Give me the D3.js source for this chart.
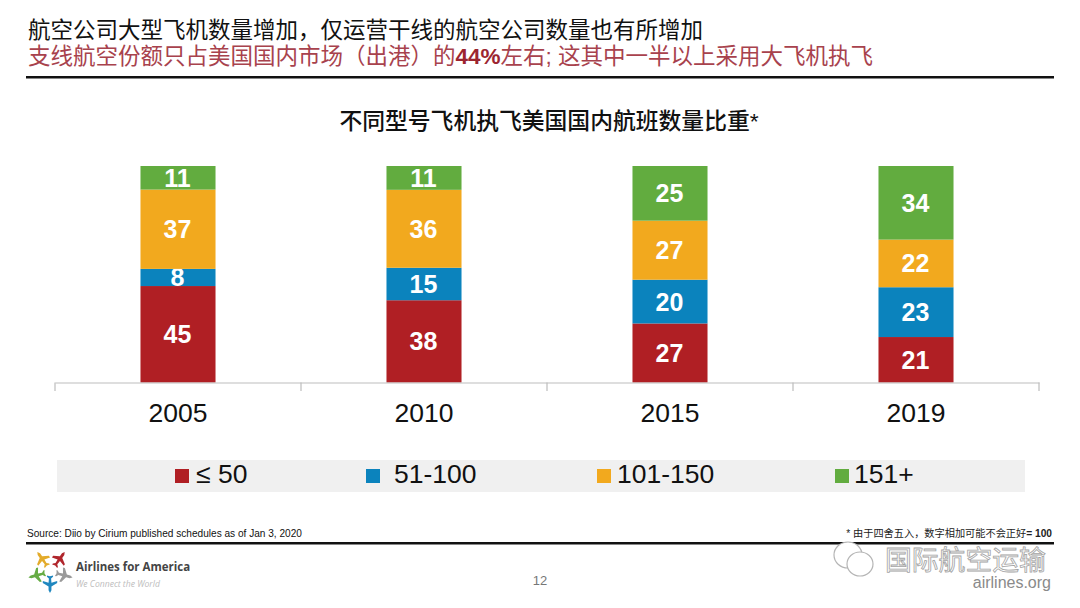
<!DOCTYPE html>
<html>
<head>
<meta charset="utf-8">
<script src="https://d3js.org/d3.v7.min.js"></script>
<style>
  body { margin: 0; background: #fff; }
  svg { display: block; }
  text { font-family: "Liberation Sans", "Noto Sans CJK SC", sans-serif; }
</style>
</head>
<body>
<svg id="chart" width="1080" height="608"></svg>
<script>
const years = ["2005", "2010", "2015", "2019"];
const groups = ["≤ 50", "51-100", "101-150", "151+"];
const small = [45, 38, 27, 21];
const regional = [8, 15, 20, 23];
const narrow = [37, 36, 27, 22];
const large = [11, 11, 25, 34];
const colors = ["#b01f24", "#0b83bd", "#f2a91e", "#62ac3f"];

// \uFF0C \uFF08 \uFF09 are the full width comma and brackets
const title1 = "航空公司大型飞机数量增加\uFF0C仅运营干线的航空公司数量也有所增加";
const title2 = "支线航空份额只占美国国内市场\uFF08出港\uFF09的";
const title2b = "44%";
const title2c = "左右; 这其中一半以上采用大飞机执飞";
const chartTitle = "不同型号飞机执飞美国国内航班数量比重*";
const source = "Source: Diio by Cirium published schedules as of Jan 3, 2020";
const footnote = "* 由于四舍五入\uFF0C数字相加可能不会正好";
const footnoteEnd = "= 100";

const svg = d3.select("#chart");

const rows = years.map((y, i) => ({ year: y, 0: small[i], 1: regional[i], 2: narrow[i], 3: large[i] }));
const stacked = d3.stack().keys([0, 1, 2, 3]).offset(d3.stackOffsetExpand)(rows);

const x = d3.scaleBand().domain(years).range([55, 1039]).paddingInner(0.695).paddingOuter(0.3475);
const y = d3.scaleLinear().domain([0, 1]).range([382.5, 166]);

// header
svg.append("text").attr("x", 28).attr("y", 38).attr("font-size", 22.5).attr("fill", "#111").text(title1);
const sub = svg.append("text").attr("x", 28).attr("y", 64).attr("font-size", 22.5).attr("fill", "#a8424d");
sub.append("tspan").text(title2);
sub.append("tspan").attr("font-weight", "bold").attr("fill", "#9c2530").text(title2b);
sub.append("tspan").text(title2c);
svg.append("rect").attr("x", 26).attr("y", 76).attr("width", 1028).attr("height", 2.5).attr("fill", "#111");

svg.append("text").attr("x", 549).attr("y", 129).attr("text-anchor", "middle")
  .attr("font-size", 22.8).attr("font-weight", 500).attr("fill", "#111").text(chartTitle);

// bars
const layer = svg.append("g").selectAll("g").data(stacked).join("g").attr("fill", d => colors[d.key]);
layer.selectAll("rect").data(d => d).join("rect")
  .attr("x", d => x(d.data.year))
  .attr("width", x.bandwidth())
  .attr("y", d => y(d[1]))
  .attr("height", d => y(d[0]) - y(d[1]));

layer.selectAll("text").data(d => d.map(p => ({ p, v: p.data[d.key] }))).join("text")
  .attr("x", d => x(d.p.data.year) + x.bandwidth() / 2 - 0.5)
  .attr("y", d => (y(d.p[0]) + y(d.p[1])) / 2 + 9)
  .attr("text-anchor", "middle")
  .attr("font-size", 25)
  .attr("font-weight", "bold")
  .attr("fill", "#fff")
  .text(d => d.v);

// axis, ticks sit between the categories
const axis = svg.append("g").attr("transform", "translate(0,382.5)")
  .call(d3.axisBottom(x).tickSize(0).tickPadding(21));
axis.select(".domain").attr("stroke", "#bdbdbd").attr("stroke-width", 1.2);
axis.selectAll("text").attr("font-size", 26.5).attr("fill", "#111")
  .style("font-family", '"Liberation Sans"');
svg.append("g").selectAll("line").data(d3.range(years.length + 1)).join("line")
  .attr("x1", i => 55 + i * x.step()).attr("x2", i => 55 + i * x.step())
  .attr("y1", 382.5).attr("y2", 391)
  .attr("stroke", "#bdbdbd").attr("stroke-width", 1.2);

// legend
svg.append("rect").attr("x", 57).attr("y", 460).attr("width", 968).attr("height", 32).attr("fill", "#f0f0f0");
const swatchX = [175, 366, 597, 835];
const labelX = [196, 394, 617, 854];
const leg = svg.append("g").selectAll("g").data(groups).join("g");
leg.append("rect").attr("x", (d, i) => swatchX[i]).attr("y", 469).attr("width", 14).attr("height", 14)
  .attr("fill", (d, i) => colors[i]);
leg.append("text").attr("x", (d, i) => labelX[i]).attr("y", 483).attr("font-size", 26.5).attr("fill", "#111").text(d => d);

// footer
svg.append("text").attr("x", 27).attr("y", 537).attr("font-size", 10.1).attr("fill", "#111").text(source);
const fn = svg.append("text").attr("x", 1052).attr("y", 537).attr("text-anchor", "end").attr("font-size", 10.2).attr("fill", "#222");
fn.append("tspan").text(footnote);
fn.append("tspan").attr("font-weight", "bold").text(footnoteEnd);
svg.append("rect").attr("x", 26).attr("y", 542).attr("width", 1028).attr("height", 2.5).attr("fill", "#111");
svg.append("text").attr("x", 540).attr("y", 585).attr("text-anchor", "middle").attr("font-size", 13).attr("fill", "#777").text("12");

// logo, five little planes round a star
const plane = "M0,-11 L1.6,-8 L1.6,-4 L8,0 L8,2.2 L1.6,0.4 L1.2,5 L3.4,7 L3.4,8.4 L0,7.4 L-3.4,8.4 L-3.4,7 L-1.2,5 L-1.6,0.4 L-8,2.2 L-8,0 L-1.6,-4 L-1.6,-8 Z";
const logoPlanes = [
  { c: "#e3ab2b", px: 43, py: 560, r: -35 },
  { c: "#b0262c", px: 59, py: 560, r: 35 },
  { c: "#9a9a9a", px: 63, py: 575, r: 105 },
  { c: "#2087bf", px: 50, py: 583, r: 180 },
  { c: "#67ac45", px: 38, py: 575, r: -105 }
];
svg.append("g").selectAll("path").data(logoPlanes).join("path")
  .attr("d", plane)
  .attr("fill", d => d.c)
  .attr("transform", d => `translate(${d.px},${d.py}) rotate(${d.r}) scale(0.9)`);
svg.append("text").attr("x", 76).attr("y", 571).attr("font-size", 11.5).attr("font-weight", "bold")
  .attr("fill", "#444").style("font-family", '"Open Sans"').text("Airlines for America");
svg.append("text").attr("x", 76).attr("y", 587).attr("font-size", 8.6).attr("font-style", "italic")
  .attr("fill", "#bdbdbd").style("font-family", '"Open Sans"').text("We Connect the World");

// watermark
const wm = svg.append("g").attr("fill", "#fff").attr("stroke", "#b5b5b5").attr("stroke-width", 1.2);
wm.append("ellipse").attr("cx", 848).attr("cy", 555).attr("rx", 14).attr("ry", 13);
wm.append("ellipse").attr("cx", 860).attr("cy", 564).attr("rx", 13).attr("ry", 12);
svg.append("text").attr("x", 885).attr("y", 570).attr("font-size", 26.8).attr("fill", "#fff")
  .attr("stroke", "#a3a3a3").attr("stroke-width", 0.8).text("国际航空运输");
svg.append("text").attr("x", 1051).attr("y", 588).attr("text-anchor", "end").attr("font-size", 16)
  .attr("fill", "#8a8a8a").text("airlines.org");
</script>
</body>
</html>
